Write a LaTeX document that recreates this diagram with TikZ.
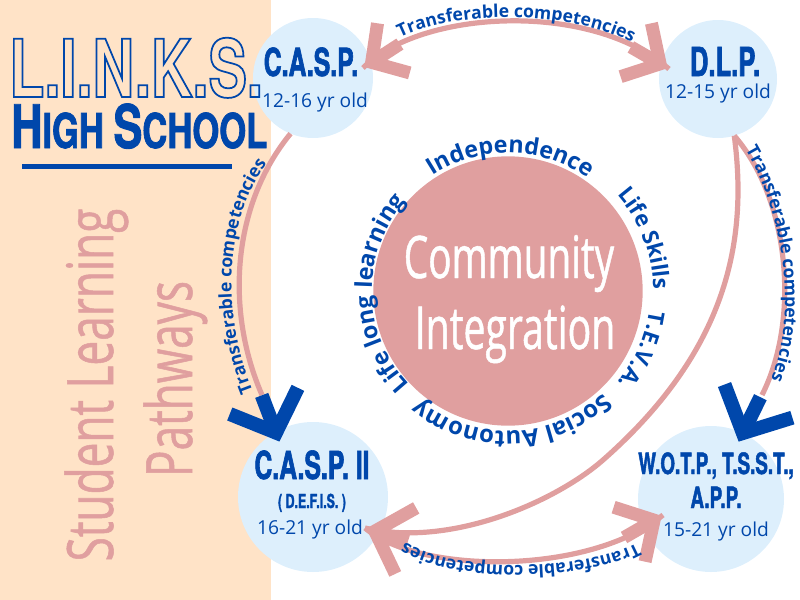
\documentclass[tikz,border=0pt]{standalone}
\usepackage{fontspec}
\usetikzlibrary{decorations.text}
\setmainfont{Open Sans}
\newfontfamily\headfont{TeX Gyre Heros}[UprightFont={* Bold},FakeStretch=0.64,FakeBold=1.6]
\newfontfamily\schoolfont{TeX Gyre Heros}[UprightFont={* Bold},FakeStretch=0.72,FakeBold=1.5]
\newfontfamily\linksfont{TeX Gyre Heros}[UprightFont={* Bold},FakeStretch=0.72]
\newfontfamily\tallfont{Open Sans}[FakeStretch=0.69,FakeBold=0.8]
\newfontfamily\comfont{Open Sans}[FakeStretch=0.66,FakeBold=0.8]
\definecolor{peach}{HTML}{FFE3C7}
\definecolor{pinkc}{HTML}{E09F9F}
\definecolor{bluec}{HTML}{0047AB}
\definecolor{paleb}{HTML}{DDEFFC}
\newcommand{\headmark}[6]{%
  \begin{scope}[shift={(#1)},rotate=#2]
    \draw[#3,line width=#4*0.75pt,miter limit=12,line join=miter]
      ({-#5*cos(39)},{#5*sin(39)}) -- ({-#4*0.5/sin(39)},0) -- ({-#5*cos(39)},{-#5*sin(39)});
    \draw[#3,line width=#4*0.75pt] ({-#4*0.5/sin(39)},0) -- (-#6,0);
  \end{scope}}
\newcommand{\ringlabel}[5]{%
  \path[shift={(ctr)},decorate,decoration={text along path,text align=center,
    text={|\fontsize{#4}{#4}\bfseries\color{bluec}|#5}}]
    ({#1+#2}:#3) arc[start angle={#1+#2},end angle={#1-#2},radius=#3];}
\newcommand{\tclabel}{|\fontsize{13.2pt}{14pt}\bfseries\color{bluec}|Transferable competencies}
\tikzset{
  bubble/.style={circle,fill=paleb,inner sep=0pt,outer sep=0pt,minimum size=#1},
  conn/.style={draw=pinkc,line width=3.9pt},
  title/.style={text=bluec,anchor=base,inner sep=0pt},
  age/.style={font=\fontsize{14.4pt}{15pt}\selectfont,text=bluec,anchor=base,inner sep=0pt},
  alongtext/.style={decorate,decoration={text along path,text align=center,text={\tclabel}}}
}
\begin{document}
\begin{tikzpicture}[x=0.75pt,y=-0.75pt]
\useasboundingbox (0,0) rectangle (800,600);
\fill[peach] (0,0) rectangle (271,600);
% named points
\coordinate (ctr) at (508,291);
\coordinate (tipcasp) at (363,68);
\coordinate (tipdlp) at (669,69);
\coordinate (tipii) at (280,443);
\coordinate (tipwotp) at (738,443);
\coordinate (tipiib) at (365,528);
\coordinate (tipwb) at (663,515);
\coordinate (mid) at (603,460);
% bubbles
\node[bubble=90pt] (casp) at (313,78) {};
\node[bubble=88.5pt] (dlp) at (718,79) {};
\node[bubble=112.5pt] (caspii) at (313,497) {};
\node[bubble=109.5pt] (wotp) at (711,499) {};
\node[circle,fill=pinkc,inner sep=0pt,minimum size=202pt] (core) at (ctr) {};
% connectors
\path[conn] (tipcasp) .. controls (420,10) and (590,0) .. (tipdlp);
\path[conn] (casp.248) .. controls (232,205) and (225,310) .. (262,395);
\path[conn] (dlp.286) .. controls (790,200) and (800,320) .. (762,395);
\path[conn] (dlp.286) .. controls (748,240) and (728,350) .. (mid) .. controls (555,502) and (450,548) .. (tipiib);
\path[conn] (tipiib) .. controls (420,575) and (590,575) .. (tipwb);
% arrow heads
\headmark{tipcasp}{-147}{pinkc}{13}{47}{44}
\headmark{tipdlp}{-30}{pinkc}{13}{49}{44}
\headmark{tipiib}{162.4}{pinkc}{13}{55}{45}
\headmark{tipwb}{30}{pinkc}{13}{50}{45}
\headmark{tipii}{-69}{bluec}{14}{58}{51}
\headmark{tipwotp}{-116}{bluec}{14}{60}{51}
% connector labels
\path[alongtext] (396,40) .. controls (450,10) and (570,8) .. (636,45);
\path[alongtext] (253,392) .. controls (220,310) and (225,220) .. (267,163);
\path[alongtext] (744,147) .. controls (782,210) and (800,310) .. (770,382);
\path[alongtext] (640,541) .. controls (590,572) and (450,575) .. (402,540);
% ring labels
\ringlabel{89}{62}{103.5pt}{17.5pt}{Independence}
\ringlabel{21}{40}{109pt}{16.6pt}{Life Skills}
\ringlabel{-24}{28}{107pt}{16.6pt}{T.E.V.A.}
\ringlabel{-88}{60}{105pt}{18pt}{Social Autonomy}
\ringlabel{181}{60}{102pt}{17.5pt}{Life long learning}
% core text
\node[font=\comfont\fontsize{44pt}{44pt}\selectfont,text=white,anchor=base,inner sep=0pt] (t1) at (509,278) {Community};
\node[font=\comfont\fontsize{44.5pt}{45pt}\selectfont,text=white,anchor=base,inner sep=0pt] (t2) at (515,349) {Integration};
% bubble labels
\node[title,font=\headfont\fontsize{29pt}{29pt}\selectfont] (l1) at (311,76) {C.A.S.P.};
\node[age] (a1) at (315,107) {12-16 yr old};
\node[title,font=\headfont\fontsize{30pt}{30pt}\selectfont] (l2) at (725,76) {D.L.P.};
\node[age] (a2) at (718,98) {12-15 yr old};
\node[title,font=\headfont\fontsize{29pt}{29pt}\selectfont] (l3) at (312,479) {C.A.S.P. II};
\node[title,font=\headfont\fontsize{14.5pt}{15pt}\selectfont] (l3b) at (312,508) {( D.E.F.I.S. )};
\node[age] (a3) at (310,534) {16-21 yr old};
\node[title,font=\headfont\fontsize{22pt}{22pt}\selectfont] (l4) at (716,474) {W.O.T.P., T.S.S.T.,};
\node[title,font=\headfont\fontsize{22pt}{22pt}\selectfont] (l4b) at (716,508) {A.P.P.};
\node[age] (a4) at (716,536) {15-21 yr old};
% titles
\node[anchor=base west,inner sep=0pt,font=\linksfont\fontsize{60pt}{60pt}\selectfont,text=bluec] (links) at (9,97)
  {\special{pdf:code 1 Tr 1.3 w}L.I.N.K.S.\special{pdf:code 0 Tr}};
\node[anchor=base west,inner sep=0pt,font=\schoolfont,text=bluec] (school) at (11,148)
  {\fontsize{45pt}{45pt}\selectfont H\fontsize{36pt}{36pt}\selectfont IGH \fontsize{45pt}{45pt}\selectfont S\fontsize{36pt}{36pt}\selectfont CHOOL};
\coordinate (ruleL) at (22,166);
\coordinate (ruleR) at (232,166);
\draw[bluec,line width=3.75pt] (ruleL) -- (ruleR);
\node[rotate=90,anchor=base,inner sep=0pt,font=\tallfont\fontsize{48pt}{48pt}\selectfont,text=pinkc] (s1) at (113,385) {Student Learning};
\node[rotate=90,anchor=base,inner sep=0pt,font=\tallfont\fontsize{48pt}{48pt}\selectfont,text=pinkc] (s2) at (192,379) {Pathways};
\end{tikzpicture}
\end{document}
